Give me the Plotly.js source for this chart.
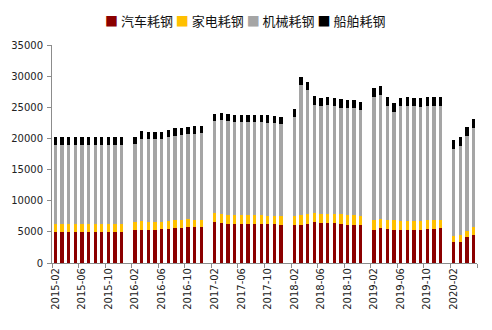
<!DOCTYPE html>
<html>
<head>
<meta charset="utf-8">
<script src="https://cdn.plot.ly/plotly-3.0.1.min.js"></script>
<style>html,body{margin:0;padding:0;background:#fff;}#chart{width:492px;height:330px;}</style>
</head>
<body>
<div id="chart"></div>
<script>
var categories = [
 "2015-02","2015-03","2015-04","2015-05","2015-06","2015-07","2015-08","2015-09","2015-10","2015-11","2015-12",
 "2016-01","2016-02","2016-03","2016-04","2016-05","2016-06","2016-07","2016-08","2016-09","2016-10","2016-11","2016-12",
 "2017-01","2017-02","2017-03","2017-04","2017-05","2017-06","2017-07","2017-08","2017-09","2017-10","2017-11","2017-12",
 "2018-01","2018-02","2018-03","2018-04","2018-05","2018-06","2018-07","2018-08","2018-09","2018-10","2018-11","2018-12",
 "2019-01","2019-02","2019-03","2019-04","2019-05","2019-06","2019-07","2019-08","2019-09","2019-10","2019-11","2019-12",
 "2020-01","2020-02","2020-03","2020-04","2020-05"
];

var seriesNames = ["汽车耗钢", "家电耗钢", "机械耗钢", "船舶耗钢"];
var seriesColors = ["#8B0000", "#FFC000", "#A5A5A5", "#000000"];

var autoSteel = [
 5000,5000,5000,5000,5000,5000,5000,5000,5000,5000,5000,
 null,5340,5340,5340,5340,5500,5500,5660,5660,5820,5820,5820,
 null,6620,6460,6300,6300,6300,6300,6300,6300,6300,6300,6140,
 null,6140,6140,6300,6510,6460,6460,6360,6300,6140,6030,6030,
 null,5340,5550,5500,5340,5340,5340,5340,5340,5500,5500,5660,
 null,3310,3310,4170,4540
];
var applianceSteel = [
 1250,1250,1250,1250,1250,1250,1250,1250,1250,1250,1250,
 null,1180,1330,1180,1180,1120,1180,1230,1230,1180,1120,1120,
 null,1330,1330,1330,1330,1330,1330,1330,1330,1280,1280,1440,
 null,1440,1600,1600,1500,1440,1440,1500,1500,1500,1600,1440,
 null,1550,1500,1440,1600,1440,1340,1440,1440,1390,1390,1230,
 null,960,1180,960,1230
];
var machinerySteel = [
 12700,12700,12700,12700,12700,12700,12700,12700,12700,12700,12700,
 null,12600,13240,13400,13400,13300,13560,13460,13720,13720,13830,13880,
 null,14850,15170,15170,15000,15000,15000,15000,15000,14950,14950,14740,
 null,15860,20830,19870,17360,17300,17460,17360,17140,17250,17250,17090,
 null,19810,19920,18320,17360,18480,18580,18400,18320,18370,18370,18370,
 null,14100,14310,15270,15910
];
var shipSteel = [
 1250,1250,1250,1250,1250,1250,1250,1250,1250,1250,1250,
 null,1070,1340,1120,1120,1120,1120,1340,1070,1120,1180,1180,
 null,1120,1120,1120,1120,1120,1120,1120,1120,1230,1070,1120,
 null,1280,1280,1280,1440,1340,1230,1280,1340,1280,1280,1340,
 null,1390,1440,1390,1440,1230,1390,1340,1390,1390,1390,1390,
 null,1390,1440,1440,1440
];

var yTicks = [0,5000,10000,15000,20000,25000,30000,35000];
var yTickText = ["0","5000","10000","15000","20000","25000","30000","35000"];

var seriesValues = [autoSteel, applianceSteel, machinerySteel, shipSteel];
var traces = seriesValues.map(function(vals, i){
  return {
    type: "bar", x: categories, y: vals, name: seriesNames[i],
    marker: {color: seriesColors[i], line: {width: 0}},
    hoverinfo: "x+y+name"
  };
});

// every 4th category labelled; ticks at category boundaries
var labelVals = categories.filter(function(c, i){ return i % 4 === 0; });
var n = categories.length;

var legendText = seriesNames.map(function(nm, i){
  return '<span style="color:' + seriesColors[i] + '">■</span> ' + nm;
}).join(' ');

var axisGray = "#8C8C8C";
var tickFont = {family: "DejaVu Sans", size: 10, color: "#222"};

var layout = {
  width: 492, height: 330,
  margin: {l: 52, r: 15, t: 45, b: 67, pad: 0},
  paper_bgcolor: "#fff", plot_bgcolor: "#fff",
  barmode: "stack", bargap: 0.5,
  showlegend: false,
  font: tickFont,
  xaxis: {
    type: "category", categoryorder: "array", categoryarray: categories,
    range: [-0.5, n - 0.5],
    tickmode: "linear", tick0: 0, dtick: 4,
    tickson: "boundaries",
    tickangle: -90, ticks: "outside", ticklen: 4, tickcolor: axisGray, tickwidth: 1,
    tickfont: tickFont,
    showline: true, linecolor: axisGray, linewidth: 1,
    showgrid: false, zeroline: false, fixedrange: true
  },
  yaxis: {
    range: [0, 35000], tickmode: "array", tickvals: yTicks, ticktext: yTickText,
    ticks: "outside", ticklen: 4, tickcolor: axisGray,
    showline: true, linecolor: axisGray, linewidth: 1,
    showgrid: false, zeroline: false, tickfont: tickFont,
    ticklabelstandoff: 2
  },
  annotations: [{
    text: legendText, xref: "paper", yref: "paper",
    x: 0.454, y: 1.114, xanchor: "center", yanchor: "middle",
    showarrow: false,
    font: {family: "Noto Sans CJK SC", size: 13, color: "#111"}
  }]
};

Plotly.newPlot("chart", traces, layout, {displayModeBar: false, staticPlot: true});
</script>
</body>
</html>
